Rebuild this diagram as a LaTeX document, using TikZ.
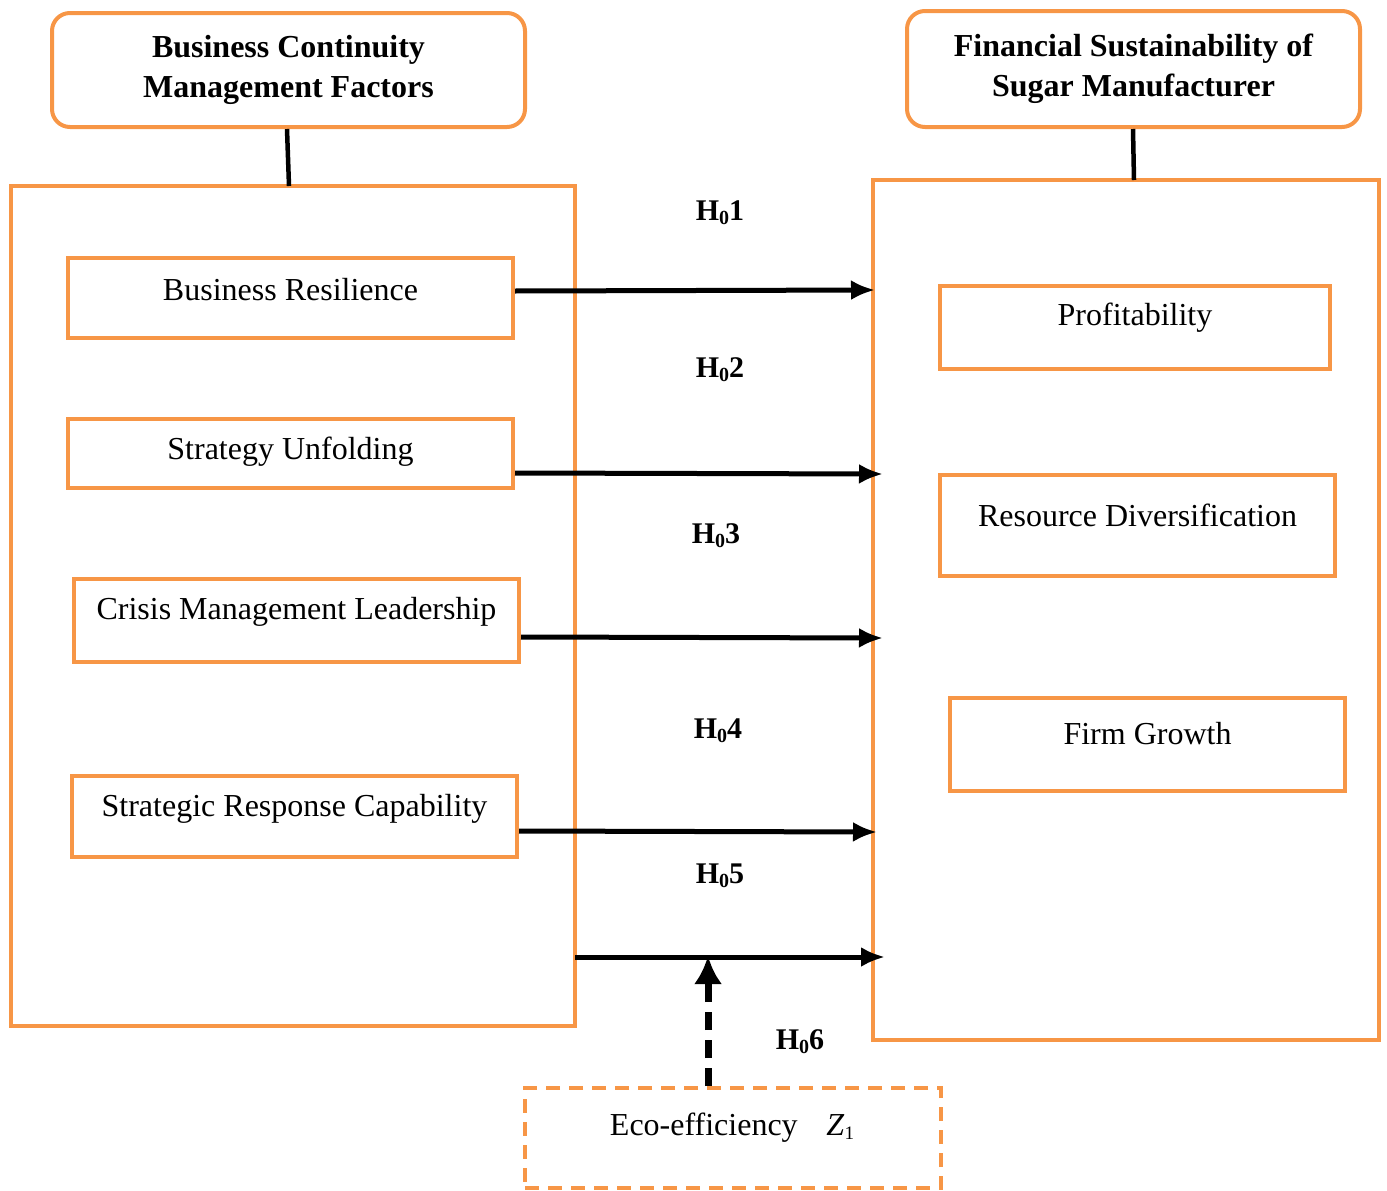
\documentclass[tikz,border=0pt]{standalone}
\usepackage{fontspec}
\setmainfont{Liberation Serif}
\usetikzlibrary{arrows.meta}
\definecolor{frame}{RGB}{247,150,70}
\begin{document}
\begin{tikzpicture}[x=1pt,y=-1pt,
  headbox/.style={draw=frame,line width=4pt,rounded corners=18pt,align=center,
    font=\fontsize{32}{40}\selectfont\bfseries,inner sep=0pt},
  bigbox/.style={draw=frame,line width=4pt,inner sep=0pt},
  itembox/.style={draw=frame,line width=4pt,inner sep=0pt},
  itemtext/.style={inner sep=0pt,font=\fontsize{32}{36}\selectfont},
  hlabel/.style={font=\fontsize{30}{36}\selectfont\bfseries,inner sep=0pt},
  link/.style={line width=5pt,-{Latex[length=24pt,width=20pt]}},
  stem/.style={line width=4.5pt}]
\useasboundingbox (0,0) rectangle (1387,1191);

% headings
\node[headbox,minimum width=473pt,minimum height=114pt] (hl) at (288.5,70)
  {Business Continuity\\Management Factors};
\node[headbox,minimum width=453pt,minimum height=116pt] (hr) at (1133.5,69)
  {Financial Sustainability of\\Sugar Manufacturer};

% outer frames
\node[bigbox,minimum width=564pt,minimum height=840pt] (lbig) at (293,606) {};
\node[bigbox,minimum width=506pt,minimum height=860pt] (rbig) at (1126,610) {};

\draw[stem] (hl.south -| 287,0) -- (289,186);
\draw[stem] (hr.south -| 1133,0) -- (1134,180);

% left items
\node[itembox,minimum width=445pt,minimum height=80pt] (br) at (290.5,298) {};
\node[itemtext] at (290.5,290) {Business Resilience};
\node[itembox,minimum width=445pt,minimum height=69pt] (su) at (290.5,453.5) {};
\node[itemtext] at (290.5,452) {Strategy Unfolding};
\node[itembox,minimum width=445pt,minimum height=83pt] (cm) at (296.5,620.5) {};
\node[itemtext] at (296.5,612) {Crisis Management Leadership};
\node[itembox,minimum width=445pt,minimum height=81pt] (sr) at (294.5,816.5) {};
\node[itemtext] at (294.5,809) {Strategic Response Capability};

% right items
\node[itembox,minimum width=390pt,minimum height=83pt] (pr) at (1135,327.5) {};
\node[itemtext] at (1135,318) {Profitability};
\node[itembox,minimum width=395pt,minimum height=101pt] (rd) at (1137.5,525.5) {};
\node[itemtext] at (1137.5,515) {Resource Diversification};
\node[itembox,minimum width=395pt,minimum height=93pt] (fg) at (1147.5,744.5) {};
\node[itemtext] at (1147.5,734) {Firm Growth};

% moderator
\node[draw=frame,line width=4pt,dash pattern=on 14pt off 9pt,inner sep=0pt,
  minimum width=416pt,minimum height=100pt] (eco) at (733,1138) {};
\node[itemtext] at (732,1128) {Eco-efficiency\hspace{0.9em}\textit{Z}\raisebox{-0.25ex}{\fontsize{19}{20}\selectfont 1}};

% hypotheses labels
\node[hlabel] (h1) at (720,213) {H\raisebox{-0.3ex}{\fontsize{20}{22}\selectfont 0}1};
\node[hlabel] (h2) at (720,370) {H\raisebox{-0.3ex}{\fontsize{20}{22}\selectfont 0}2};
\node[hlabel] (h3) at (716,536) {H\raisebox{-0.3ex}{\fontsize{20}{22}\selectfont 0}3};
\node[hlabel] (h4) at (718,731) {H\raisebox{-0.3ex}{\fontsize{20}{22}\selectfont 0}4};
\node[hlabel] (h5) at (720,876) {H\raisebox{-0.3ex}{\fontsize{20}{22}\selectfont 0}5};
\node[hlabel] (h6) at (800,1042) {H\raisebox{-0.3ex}{\fontsize{20}{22}\selectfont 0}6};

% paths
\coordinate (e1) at (875,290);
\coordinate (e2) at (883,474);
\coordinate (e3) at (883,638);
\coordinate (e4) at (877,832);
\coordinate (s5) at (575,957);
\coordinate (e5) at (885,957);
\coordinate (m6) at (708,956);
\draw[link] (br.east |- 0,291) -- (e1);
\draw[link] (su.east |- 0,473) -- (e2);
\draw[link] (cm.east |- 0,637) -- (e3);
\draw[link] (sr.east |- 0,831) -- (e4);
\draw[link] (s5) -- (e5);
\draw[line width=7pt,dash pattern=on 18pt off 10pt,-{Latex[length=28pt,width=28pt]}]
  (eco.north -| m6) -- (m6);
\end{tikzpicture}
\end{document}
